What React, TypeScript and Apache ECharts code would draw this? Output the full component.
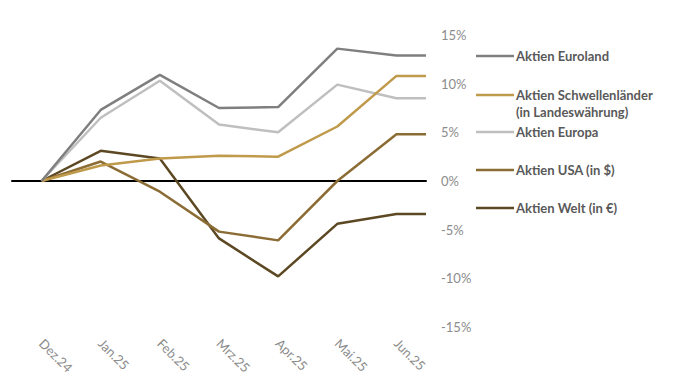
import React, { useEffect, useRef } from "react";
import * as echarts from "echarts";

const categories = ["Dez.24", "Jan.25", "Feb.25", "Mrz.25", "Apr.25", "Mai.25", "Jun.25"];
const seriesNames = [
  "Aktien Euroland",
  "Aktien Schwellenländer (in Landeswährung)",
  "Aktien Europa",
  "Aktien USA (in $)",
  "Aktien Welt (in €)",
];
const euroland = [0, 7.3, 10.9, 7.5, 7.6, 13.6, 12.9];
const schwellen = [0, 1.6, 2.3, 2.6, 2.5, 5.6, 10.8];
const europa = [0, 6.5, 10.3, 5.8, 5.0, 9.9, 8.5];
const usa = [0, 2.0, -1.1, -5.2, -6.1, 0, 4.8];
const welt = [0, 3.1, 2.3, -5.9, -9.8, -4.4, -3.4];
const yTicks = { min: -15, max: 15, interval: 5 };

const colors = ["#7f7f7f", "#c09a4b", "#bfbfbf", "#8c6c35", "#5c4823"];
const values = [euroland, schwellen, europa, usa, welt];
const legendCenters = [56, 95, 132, 170, 208];

export default function App() {
  const ref = useRef<HTMLDivElement>(null);
  useEffect(() => {
    if (!ref.current) return;
    const chart = echarts.init(ref.current, undefined, { renderer: "svg" });
    const font = "Lato, 'Liberation Sans', sans-serif";
    const series = values.map((vals, i) => {
      const pts: number[][] = vals.map((v, k) => [k, v]);
      // the line runs flat to the plot's right edge after the last month
      pts.push([categories.length - 0.5, vals[vals.length - 1]]);
      return {
        name: seriesNames[i],
        type: "line",
        xAxisIndex: 1,
        data: pts,
        showSymbol: false,
        symbol: "none",
        lineStyle: { color: colors[i], width: 2.5 },
        itemStyle: { color: colors[i] },
        z: 10 - i,
      };
    });
    const lh = 17;
    const iconH = 2.5;
    const legends = seriesNames.map((name, i) => {
      const twoLine = i === 1;
      const half = twoLine ? lh * 1.5 : lh / 2;
      return {
        data: [name],
        orient: "vertical",
        left: 476,
        top: legendCenters[i] - half,
        padding: 0,
        icon: "rect",
        itemWidth: 38,
        itemHeight: iconH,
        itemGap: 0,
        selectedMode: false,
        formatter: twoLine ? () => "\u00a0\nAktien Schwellenländer\n(in Landeswährung)" : undefined,
        itemStyle: { color: colors[i], borderWidth: 0 },
        textStyle: {
          color: "#595959",
          fontWeight: "bold",
          fontSize: 13,
          fontFamily: font,
          lineHeight: lh,
          padding: [0, 0, 0, -3],
        },
      };
    });
    chart.setOption({
      animation: false,
      backgroundColor: "#ffffff",
      grid: { left: 12, right: 253, top: 35, bottom: 61 },
      legend: legends,
      xAxis: [
        {
          type: "category",
          data: categories,
          boundaryGap: true,
          position: "bottom",
          axisLine: { show: false, onZero: false },
          axisTick: { show: false },
          splitLine: { show: false },
          axisLabel: {
            rotate: -45,
            color: "#8c8c8c",
            fontSize: 13,
            fontFamily: font,
            margin: 14,
            interval: 0,
          },
        },
        {
          type: "value",
          min: -0.5,
          max: categories.length - 0.5,
          position: "bottom",
          show: true,
          axisLine: { show: true, onZero: true, lineStyle: { color: "#000000", width: 2 } },
          axisTick: { show: false },
          axisLabel: { show: false },
          splitLine: { show: false },
        },
      ],
      yAxis: {
        type: "value",
        position: "right",
        min: yTicks.min,
        max: yTicks.max,
        interval: yTicks.interval,
        axisLine: { show: false },
        axisTick: { show: false },
        splitLine: { show: false },
        axisLabel: {
          formatter: "{value}%",
          color: "#8c8c8c",
          fontSize: 13,
          fontFamily: font,
          margin: 15,
        },
      },
      series,
    });
    return () => chart.dispose();
  }, []);
  return <div ref={ref} style={{ width: 679, height: 388, position: "absolute", left: 0, top: 0 }} />;
}
